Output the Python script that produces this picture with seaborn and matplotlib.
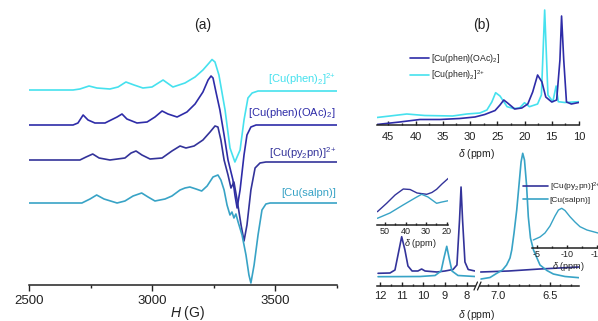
import matplotlib
matplotlib.use("Agg")
import matplotlib.pyplot as plt
import seaborn as sns
from matplotlib.lines import Line2D
from matplotlib.ticker import FixedLocator, FormatStrFormatter

# ---------------- (a) EPR spectra: field (G) vs. intensity (arb. units, stacked)
field_phen2 = [2500, 2679, 2707, 2744, 2776, 2829, 2862, 2894, 2927, 2963, 3000, 3045, 3085, 3134,
               3175, 3207, 3232, 3244, 3256, 3272, 3297, 3317, 3337, 3358, 3374, 3390, 3407, 3431, 3752]
epr_phen2 = [195, 195, 196, 199, 197, 196, 198, 203, 200, 197, 198, 205, 198, 202,
             208, 215, 222, 225.5, 223, 210, 175, 137, 123, 135, 165, 187, 192, 194, 194]

field_oac = [2500, 2679, 2699, 2720, 2740, 2768, 2809, 2858, 2878, 2898, 2939, 2980, 3012, 3041,
             3065, 3102, 3142, 3175, 3207, 3228, 3240, 3248, 3260, 3276, 3293, 3309, 3329, 3337,
             3346, 3358, 3374, 3386, 3402, 3423, 3752]
epr_oac = [160, 160, 162, 170, 165, 162, 162, 168, 171, 166, 162, 163, 168, 174,
           171, 168, 173, 181, 193, 205, 209, 207, 193, 175, 150, 125, 105, 90,
           77, 95, 130, 150, 158, 160, 160]

field_py2pn = [2500, 2707, 2732, 2759, 2785, 2829, 2890, 2915, 2935, 2959, 2992, 3041, 3081, 3114,
               3138, 3171, 3207, 3236, 3256, 3268, 3280, 3293, 3309, 3321, 3333, 3346, 3362, 3374,
               3386, 3402, 3419, 3439, 3463, 3752]
epr_py2pn = [125, 125, 128, 131, 127, 125, 127, 132, 134, 130, 126, 127, 134, 139,
             137, 139, 145, 153, 159, 158, 145, 125, 110, 97, 103, 85, 60, 44,
             60, 95, 117, 122, 123, 123]

field_salpn = [2500, 2715, 2748, 2775, 2805, 2858, 2890, 2923, 2958, 2984, 3012, 3053, 3081, 3114,
               3134, 3154, 3179, 3202, 3224, 3248, 3268, 3280, 3293, 3305, 3317, 3325, 3333, 3341,
               3350, 3366, 3382, 3394, 3402, 3415, 3431, 3447, 3463, 3480, 3752]
epr_salpn = [82, 82, 86, 90, 86, 82, 84, 89, 92, 88, 84, 86, 89, 95,
             97, 98, 96, 94, 99, 108, 110, 105, 95, 80, 70, 73, 67, 71,
             63, 50, 30, 10, 2, 20, 50, 75, 81, 82, 82]

# ---------------- (b) top: NMR 47-10 ppm
ppm_oac = [47.1, 42.9, 39.2, 35.5, 31.9, 29.1, 27.3, 25.4, 24.5, 23.8, 23.1, 21.8, 20.5, 19.4,
           18.5, 17.6, 16.8, 16.1, 15.0, 14.1, 13.5, 13.2, 12.8, 12.3, 11.4, 10.05]
nmr_oac = [0.5, 3, 5.5, 5.5, 6.5, 8, 10.5, 14.5, 20, 25, 22, 16, 17, 21,
           33, 50, 43, 28, 23, 25, 65, 109, 65, 23, 21, 22.5]

ppm_phen2 = [47.1, 44.7, 41.6, 38.3, 33.2, 30.6, 28.2, 26.9, 26.0, 25.3, 24.5, 23.2, 22.0, 20.9,
             20.0, 19.1, 17.6, 16.9, 16.3, 15.7, 14.8, 14.2, 13.8, 12.6, 10.05]
nmr_phen2 = [7.5, 9, 11, 9.5, 9, 11, 12, 15, 23, 32.3, 29, 18.3, 16.5, 17,
             22.3, 18.3, 21, 30, 115, 30, 23.3, 39, 23.3, 22.5, 23.3]

# ---------------- (b) bottom: broken axis, 12-7.6 ppm and 7.2-6.2 ppm
ppm_py2pn_l = [12.09, 11.54, 11.31, 11.17, 11.0, 10.85, 10.71, 10.52, 10.25, 10.08, 9.92, 9.37,
               9.0, 8.63, 8.45, 8.33, 8.26, 8.19, 8.08, 7.93, 7.62]
nmr_py2pn_l = [12.7, 13, 16, 31, 49.3, 36, 20, 15, 15, 17, 15, 14,
               15, 16.5, 21, 66, 99, 66, 24, 16.5, 15]
ppm_salpn_l = [12.09, 10.15, 9.46, 9.18, 9.05, 8.92, 8.81, 8.68, 8.40, 7.62]
nmr_salpn_l = [9.3, 9.5, 10.5, 15, 28, 39.7, 28, 15, 10.5, 9.5]

ppm_py2pn_r = [7.17, 6.9, 6.6, 6.22]
nmr_py2pn_r = [14, 15, 17, 19]
ppm_salpn_r = [7.167, 7.08, 7.015, 6.96, 6.92, 6.887, 6.87, 6.848, 6.822, 6.80, 6.78, 6.764,
               6.747, 6.727, 6.71, 6.689, 6.66, 6.597, 6.53, 6.468, 6.355, 6.22]
nmr_salpn_r = [7, 8.5, 12.7, 16, 21, 28, 36, 53, 76, 101, 124, 132.7,
               126, 101, 69.3, 48, 36, 21, 15.5, 12, 9.5, 8.3]

# insets
ppm_in1 = [53.7, 49.2, 45.1, 41.1, 37.8, 34.4, 29.7, 27.2, 24.9, 22.3, 19.2]
nmr_in1_py2pn = [13.3, 21.7, 30, 36, 35.5, 32, 30.7, 32.5, 35.7, 41, 46.7]
ppm_in1_salpn = [53.7, 47.6, 41.2, 35.4, 32.2, 29.1, 24.9, 22.3, 19.2]
nmr_in1_salpn = [6.7, 12, 20, 27, 30.7, 28, 21.7, 23, 24.3]

ppm_in2 = [-4.38, -5.5, -6.33, -7.17, -8.0, -8.58, -9.12, -9.67, -10.5, -11.33, -12.17,
           -13.33, -14.38, -15.17]
nmr_in2_salpn = [8.3, 11.3, 15.3, 22.3, 32.3, 38.3, 40, 37.8, 31.6, 26.3, 21.6, 18.3, 16.6, 15.3]

CYAN = "#46E1EE"
NAVY = "#2E2CA8"
INDIGO = "#33339A"
TEAL = "#38A3C6"
INK = "#222222"

LBL_PHEN2 = r"[Cu(phen)$_2$]$^{2{+}}$"
LBL_OAC = r"[Cu(phen)(OAc)$_2$]"
LBL_PY2PN = r"[Cu(py$_2$pn)]$^{2{+}}$"
LBL_SALPN = "[Cu(salpn)]"

sns.set_theme(style="white")
plt.rcParams["font.family"] = ["Liberation Sans", "DejaVu Sans"]
plt.rcParams["mathtext.fontset"] = "custom"
plt.rcParams["mathtext.rm"] = "Liberation Sans"
plt.rcParams["mathtext.it"] = "Liberation Sans:italic"
plt.rcParams["axes.unicode_minus"] = False

W, H = 598, 321
fig = plt.figure(figsize=(W / 100, H / 100), dpi=100)


def px_axes(x0, x1, y_axis, y_top):
    ax = fig.add_axes([x0 / W, 1 - y_axis / H, (x1 - x0) / W, (y_axis - y_top) / H])
    ax.set_facecolor("none")
    ax.set_ylim(0, y_axis - y_top)
    sns.despine(ax=ax, left=True)
    ax.set_yticks([])
    ax.spines["bottom"].set_color(INK)
    ax.spines["bottom"].set_linewidth(1.1)
    return ax


def trace(ax, x, y, color, lw=1.2):
    sns.lineplot(x=x, y=y, ax=ax, color=color, linewidth=lw, sort=False,
                 estimator=None, legend=False)


def ticks(ax, major, minor, size, pad, direction="in", length=3):
    ax.xaxis.set_major_locator(FixedLocator(major))
    ax.xaxis.set_minor_locator(FixedLocator(minor))
    ax.tick_params(axis="x", which="both", bottom=True, direction=direction,
                   color=INK, labelcolor=INK, labelsize=size, pad=pad, width=1)
    ax.tick_params(axis="x", which="major", length=length)
    ax.tick_params(axis="x", which="minor", length=length * 0.6)


# ---- (a)
ax_a = px_axes(29, 337, 285, 40)
ax_a.set_xlim(2500, 3752)
trace(ax_a, field_phen2, epr_phen2, CYAN)
trace(ax_a, field_oac, epr_oac, NAVY)
trace(ax_a, field_py2pn, epr_py2pn, INDIGO)
trace(ax_a, field_salpn, epr_salpn, TEAL)
ticks(ax_a, [2500, 3000, 3500], [2750, 3250, 3750], 9.5, 3, direction="out", length=4)
ax_a.set_xlabel("$H$ (G)", fontsize=10, color=INK)
ax_a.xaxis.set_label_coords(0.516, -0.078)
for y, txt, c in [(202, LBL_PHEN2, CYAN), (169, LBL_OAC, NAVY),
                  (128, LBL_PY2PN, INDIGO), (89, LBL_SALPN, TEAL)]:
    ax_a.text(3748, y, txt, color=c, ha="right", va="baseline", fontsize=8)

# ---- (b) top
ax_bt = px_axes(377, 579, 125, 5)
ax_bt.set_xlim(47.07, 10.0)
trace(ax_bt, ppm_phen2, nmr_phen2, CYAN)
trace(ax_bt, ppm_oac, nmr_oac, NAVY)
ticks(ax_bt, list(range(45, 9, -5)), [42.5, 37.5, 32.5, 27.5, 22.5, 17.5, 12.5], 8, 5)
ax_bt.set_xlabel(r"$\delta$ (ppm)", fontsize=7.5, color=INK)
ax_bt.xaxis.set_label_coords(0.495, -0.18)
h = ax_bt.get_lines()
ax_bt.legend([h[1], h[0]], [LBL_OAC, LBL_PHEN2],
             loc="upper left", bbox_to_anchor=(410 / W, 1 - 52 / H), bbox_transform=fig.transFigure,
             frameon=False, fontsize=6.3, handlelength=2.2, handletextpad=0.25,
             borderpad=0, borderaxespad=0, labelspacing=0.35)

# ---- (b) bottom, left part
ax_bl = px_axes(377.3, 475, 286, 145)
ax_bl.set_xlim(12.125, 7.616)
trace(ax_bl, ppm_py2pn_l, nmr_py2pn_l, INDIGO)
trace(ax_bl, ppm_salpn_l, nmr_salpn_l, TEAL)
ticks(ax_bl, [12, 11, 10, 9, 8], [11.5, 10.5, 9.5, 8.5], 8, 3.5)
ax_bl.set_xlabel(r"$\delta$ (ppm)", fontsize=7.5, color=INK)
ax_bl.xaxis.set_label_coords(1.017, -0.155)

# ---- (b) bottom, right part
ax_br = px_axes(480, 579.3, 286, 145)
ax_br.set_xlim(7.177, 6.217)
trace(ax_br, ppm_py2pn_r, nmr_py2pn_r, INDIGO)
trace(ax_br, ppm_salpn_r, nmr_salpn_r, TEAL)
ticks(ax_br, [7.0, 6.5], [7.1, 6.9, 6.8, 6.7, 6.6, 6.4, 6.3], 8, 3.5)
ax_br.xaxis.set_major_formatter(FormatStrFormatter("%.1f"))
h = ax_br.get_lines()
ax_br.legend([h[0], h[1]], [LBL_PY2PN, LBL_SALPN],
             loc="upper left", bbox_to_anchor=(523 / W, 1 - 180.5 / H), bbox_transform=fig.transFigure,
             frameon=False, fontsize=6, handlelength=3.0, handletextpad=0.2,
             borderpad=0, borderaxespad=0, labelspacing=0.3)

# axis break marks
for dx in (0, 3.5):
    fig.add_artist(Line2D([(474 + dx) / W, (477.5 + dx) / W], [1 - 290 / H, 1 - 282 / H],
                          color=INK, lw=0.9, transform=fig.transFigure))

# ---- insets
ax_i1 = px_axes(377.3, 448.3, 225, 170)
ax_i1.set_xlim(53.74, 19.22)
trace(ax_i1, ppm_in1, nmr_in1_py2pn, INDIGO, lw=1.0)
trace(ax_i1, ppm_in1_salpn, nmr_in1_salpn, TEAL, lw=1.0)
ticks(ax_i1, [50, 40, 30, 20], [45, 35, 25], 6.5, 1.5, length=2.5)
ax_i1.set_xlabel(r"$\delta$ (ppm)", fontsize=6.5, color=INK)
ax_i1.xaxis.set_label_coords(0.60, -0.215)

ax_i2 = px_axes(531.7, 598, 248.3, 200)
ax_i2.set_xlim(-4.12, -15.17)
trace(ax_i2, ppm_in2, nmr_in2_salpn, TEAL, lw=1.0)
ticks(ax_i2, [-5, -10, -15], [-7.5, -12.5], 6.5, 1.5, length=2.5)
ax_i2.set_xlabel(r"$\delta$ (ppm)", fontsize=6.5, color=INK)
ax_i2.xaxis.set_label_coords(0.55, -0.25)

fig.text(203 / W, 1 - 25 / H, "(a)", ha="center", va="center", fontsize=10, color=INK)
fig.text(482 / W, 1 - 25 / H, "(b)", ha="center", va="center", fontsize=10, color=INK)

fig.savefig("out.png", dpi=100)
